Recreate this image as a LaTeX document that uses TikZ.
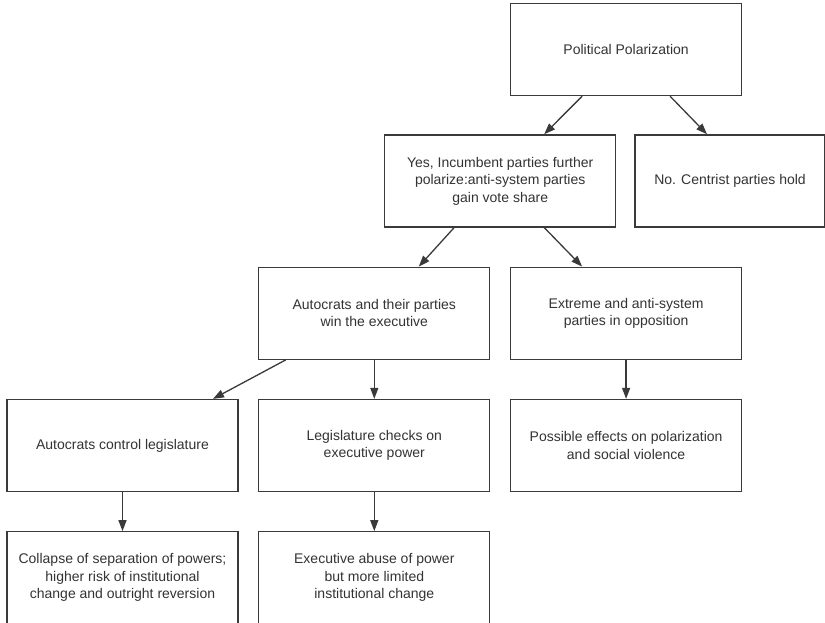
\documentclass[tikz,border=0pt]{standalone}
\usepackage{fontspec}
\setmainfont{Liberation Sans}
\usepackage{tikz}
\usetikzlibrary{arrows.meta,positioning,calc}
\definecolor{PolLine}{HTML}{3A3A3A}
\definecolor{PolText}{HTML}{333333}

\begin{document}
\begin{tikzpicture}[
    x=1pt, y=1pt,
    node distance=39pt and 19.5pt,
    block/.style={rectangle, draw=PolLine, fill=white, minimum width=231pt, minimum height=92pt, align=center, text=PolText, font=\fontsize{14}{17.5}\selectfont, line width=1.3pt, inner sep=4pt},
    arrow/.style={-{Triangle[length=11pt, width=8pt]}, line width=1.3pt, color=PolLine}
]
\useasboundingbox (0,0) rectangle (825,-623);

% Third Layer: Legislature
\node[block] (ctrl) at (122.5,-445.5) {Autocrats control legislature};
\node[block, right=of ctrl] (checks) {Legislature checks on\\ executive power};
\node[block, right=of checks] (effects) {Possible effects on polarization\\ and social violence};

% Bottom Layer: Outcomes
\node[block, below=of ctrl] (collapse) {Collapse of separation of powers;\\ higher risk of institutional\\ change and outright reversion};
\node[block, below=of checks] (abuse) {Executive abuse of power\\ but more limited\\ institutional change};

% Second Layer: Executive \& Opposition
\node[block, above=of checks] (auto) {Autocrats and their parties\\ win the executive};
\node[block, above=of effects] (extreme) {Extreme and anti-system\\ parties in opposition};

% Top Layer: Polarization
\coordinate (mid) at ($(auto.north)!0.5!(extreme.north)$);
\node[block, above=of mid] (yes) {Yes, Incumbent parties further\\ polarize:anti-system parties\\ gain vote share};
\node[block, minimum width=190pt, right=18pt of yes] (no) {No. Centrist parties hold};
\coordinate (top) at (yes.north -| extreme.north);
\node[block, above=38pt of top] (pp) {Political Polarization};

% Connections
\draw[arrow] ([xshift=-44pt]pp.south) -- ([xshift=44pt]yes.north);
\draw[arrow] ([xshift=44pt]pp.south) -- ([xshift=-23pt]no.north);
\draw[arrow] ([xshift=-46pt]yes.south) -- ([xshift=44.5pt]auto.north);
\draw[arrow] ([xshift=44pt]yes.south) -- ([xshift=-44pt]extreme.north);
\draw[arrow] ([xshift=-88.5pt]auto.south) -- ([xshift=90.5pt]ctrl.north);
\draw[arrow] (auto) -- (checks);
\draw[arrow] (extreme) -- (effects);
\draw[arrow] (ctrl) -- (collapse);
\draw[arrow] (checks) -- (abuse);

\end{tikzpicture}
\end{document}
